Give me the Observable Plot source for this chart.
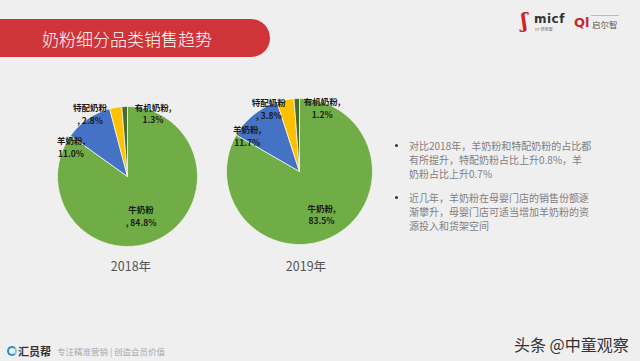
<!DOCTYPE html>
<html><head><meta charset="utf-8">
<script src="https://cdn.jsdelivr.net/npm/d3@7"></script>
<script src="https://cdn.jsdelivr.net/npm/@observablehq/plot@0.6"></script>
<style>
html,body{margin:0;padding:0}
body{width:640px;height:361px;overflow:hidden;background:#f0eff0;font-family:"Noto Sans CJK SC","Noto Sans",sans-serif;position:relative}
.abs{position:absolute;white-space:nowrap}
#bar{left:0;top:19px;width:270px;height:38px;background:#cf3439;border-radius:0 19px 19px 0}
#title{left:127px;top:38px;transform:translate(-50%,-50%);color:#fff;font-size:17px;font-weight:300;letter-spacing:0}
.year{top:265px;transform:translate(-50%,-50%);color:#555;font-size:12.5px}
.line{left:409px;font-size:10px;line-height:14px;color:#808080}
.dot{width:3px;height:3px;border-radius:50%;background:#333}
.pie{position:absolute}
</style></head><body>
<div id="bar" class="abs"></div>
<div id="title" class="abs">奶粉细分品类销售趋势</div>

<div class="abs" style="left:521px;top:9px;color:#c8262c;font-size:20px;font-weight:bold;font-family:'DejaVu Serif';">ʃ</div>
<div class="abs" style="left:534px;top:12px;color:#333;font-size:12px;font-weight:bold;font-family:'DejaVu Sans';letter-spacing:0.5px">micf</div>
<div class="abs" style="left:535px;top:26px;color:#666;font-size:4px;">IIT 伊思智</div>
<div class="abs" style="left:574px;top:15px;color:#c8262c;font-size:13px;font-weight:bold;font-family:'DejaVu Sans';">Ql</div>
<div class="abs" style="left:591px;top:15px;width:28px;height:1px;background:#bbb"></div>
<div class="abs" style="left:592px;top:18px;color:#555;font-size:8.5px;">启尔智</div>

<div id="pies"></div>
<div id="y0" class="abs year" style="left:131px"></div>
<div id="y1" class="abs year" style="left:306px"></div>

<div class="abs dot" style="left:395px;top:144px"></div>
<div class="abs line" style="top:139px">对比2018年，羊奶粉和特配奶粉的占比都</div>
<div class="abs line" style="top:153px">有所提升，特配奶粉占比上升0.8%，羊</div>
<div class="abs line" style="top:167px">奶粉占比上升0.7%</div>
<div class="abs dot" style="left:395px;top:196px"></div>
<div class="abs line" style="top:191px">近几年，羊奶粉在母婴门店的销售份额逐</div>
<div class="abs line" style="top:205px">渐攀升，母婴门店可适当增加羊奶粉的资</div>
<div class="abs line" style="top:219px">源投入和货架空间</div>

<div class="abs" style="left:7px;top:346px;width:6px;height:6px;border:2px solid #2a8fd0;border-right-color:#7ec8e8;border-radius:50%"></div>
<div class="abs" style="left:18px;top:343px;color:#333;font-size:11px;font-weight:bold;">汇员帮</div>
<div class="abs" style="left:57px;top:345px;color:#a8a8a8;font-size:8.5px;">专注精准营销 | 创造会员价值</div>
<div class="abs" style="left:514px;top:332px;color:#333;font-size:16px;">头条 @中童观察</div>

<script>
const categories = ["牛奶粉", "羊奶粉", "特配奶粉", "有机奶粉"];
const colors = ["#70ad47", "#4472c4", "#ffc000", "#4a6b2a"];
const years = ["2018年", "2019年"];
const share2018 = [84.8, 11.0, 2.8, 1.3];
const share2019 = [83.5, 11.7, 3.8, 1.2];
const labelTemplates2018 = ["{c}\n, {v}", "{c},\n{v}", "{c}\n, {v}", "{c},\n{v}"];
const labelTemplates2019 = ["{c},\n{v}", "{c},\n{v}", "{c}\n, {v}", "{c},\n{v}"];

// layout only (pixels): pie centre, radius, label block offsets from centre
const layouts = [
  {cx: 126.5, cy: 175.5, r: 70, labels: [[13.5, 39], [-56.5, -30], [-37.5, -63], [25.5, -63.5]]},
  {cx: 299, cy: 171, r: 73, labels: [[22, 42.3], [-52.3, -36.3], [-30.7, -63.3], [22.7, -64.3]]}
];

function piePlot(values, layout, templates) {
  const S = 200, c = S / 2;
  const arcs = d3.pie().sort(null).value(d => d)(values);
  const pts = [];
  arcs.forEach((a, i) => {
    const span = a.endAngle - a.startAngle;
    const n = Math.max(2, Math.ceil(span / (Math.PI / 180)));
    pts.push({cat: categories[i], x: 0, y: 0});
    for (let k = 0; k <= n; k++) {
      const t = a.startAngle + span * k / n;
      pts.push({cat: categories[i], x: Math.sin(t), y: Math.cos(t)});
    }
    pts.push({cat: categories[i], x: 0, y: 0});
  });
  const labels = values.map((v, i) => ({
    x: layout.labels[i][0] / layout.r,
    y: -layout.labels[i][1] / layout.r,
    text: templates[i].replace("{c}", categories[i]).replace("{v}", v.toFixed(1) + "%")
  }));
  const svg = Plot.plot({
    width: S, height: S, margin: 0,
    x: {domain: [-1, 1], range: [c - layout.r, c + layout.r], axis: null},
    y: {domain: [-1, 1], range: [c + layout.r, c - layout.r], axis: null},
    color: {domain: categories, range: colors},
    style: {background: "transparent", overflow: "visible", fontFamily: "'Noto Sans CJK SC', sans-serif"},
    marks: [
      Plot.line(pts, {x: "x", y: "y", z: "cat", fill: "cat", stroke: "#f2f6ee", strokeWidth: 0.8, curve: "linear"}),
      Plot.text(labels, {x: "x", y: "y", text: "text", fontSize: 8.5, fontWeight: "bold", fill: "#1a1a1a", lineHeight: 1.5})
    ]
  });
  const wrap = document.createElement("div");
  wrap.className = "pie";
  wrap.style.left = (layout.cx - c) + "px";
  wrap.style.top = (layout.cy - c) + "px";
  wrap.appendChild(svg);
  return wrap;
}

const pies = document.getElementById("pies");
pies.appendChild(piePlot(share2018, layouts[0], labelTemplates2018));
pies.appendChild(piePlot(share2019, layouts[1], labelTemplates2019));
document.getElementById("y0").textContent = years[0];
document.getElementById("y1").textContent = years[1];
</script>
</body></html>
